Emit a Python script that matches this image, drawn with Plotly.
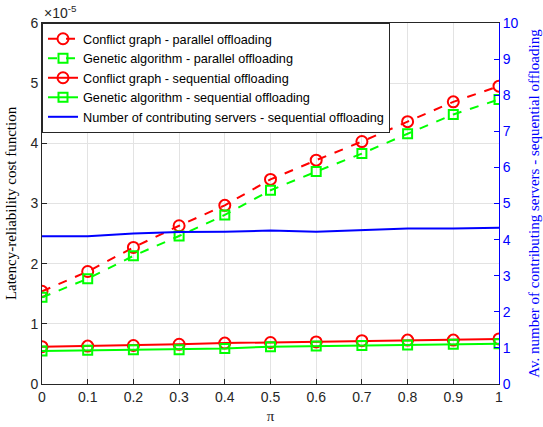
import plotly.graph_objects as go

# Weighting factor pi
pi_vals = [0, 0.1, 0.2, 0.3, 0.4, 0.5, 0.6, 0.7, 0.8, 0.9, 1.0]

# Latency-reliability cost (units of 1e-5)
cg_parallel = [1.54, 1.87, 2.27, 2.63, 2.97, 3.40, 3.72, 4.03, 4.36, 4.69, 4.95]
ga_parallel = [1.44, 1.75, 2.13, 2.46, 2.81, 3.22, 3.53, 3.83, 4.16, 4.48, 4.73]
cg_sequential = [0.62, 0.63, 0.64, 0.66, 0.68, 0.69, 0.70, 0.72, 0.73, 0.73, 0.75]
ga_sequential = [0.55, 0.56, 0.57, 0.57, 0.59, 0.62, 0.63, 0.64, 0.65, 0.66, 0.67]

# Average number of contributing servers (sequential offloading)
servers_sequential = [4.09, 4.09, 4.17, 4.21, 4.22, 4.25, 4.22, 4.26, 4.31, 4.31, 4.33]

x_ticks = [0, 0.1, 0.2, 0.3, 0.4, 0.5, 0.6, 0.7, 0.8, 0.9, 1]
x_tick_text = ["0", "0.1", "0.2", "0.3", "0.4", "0.5", "0.6", "0.7", "0.8", "0.9", "1"]
left_ticks = [0, 1, 2, 3, 4, 5, 6]
right_ticks = [0, 1, 2, 3, 4, 5, 6, 7, 8, 9, 10]

RED = "#ff0000"
GREEN = "#00ff00"
BLUE = "#0000ff"
AX = "#262626"
GRID = "#e3e3e3"
SANS = "Liberation Sans, Arial, sans-serif"
SERIF = "Liberation Serif, Times New Roman, serif"

fig = go.Figure()

fig.add_trace(go.Scatter(
    x=pi_vals, y=cg_parallel, name="Conflict graph - parallel offloading",
    mode="lines+markers",
    line=dict(color=RED, width=2, dash="dash"),
    marker=dict(symbol="circle-open", size=11, color=RED, line=dict(width=2)),
))
fig.add_trace(go.Scatter(
    x=pi_vals, y=ga_parallel, name="Genetic algorithm - parallel offloading",
    mode="lines+markers",
    line=dict(color=GREEN, width=2, dash="dash"),
    marker=dict(symbol="square-open", size=9, color=GREEN, line=dict(width=2)),
))
fig.add_trace(go.Scatter(
    x=pi_vals, y=cg_sequential, name="Conflict graph - sequential offloading",
    mode="lines+markers",
    line=dict(color=RED, width=2),
    marker=dict(symbol="circle-open", size=11, color=RED, line=dict(width=2)),
))
fig.add_trace(go.Scatter(
    x=pi_vals, y=ga_sequential, name="Genetic algorithm - sequential offloading",
    mode="lines+markers",
    line=dict(color=GREEN, width=2),
    marker=dict(symbol="square-open", size=9, color=GREEN, line=dict(width=2)),
))
fig.add_trace(go.Scatter(
    x=pi_vals, y=servers_sequential,
    name="Number of contributing servers - sequential offloading",
    mode="lines", yaxis="y2",
    line=dict(color=BLUE, width=2),
))

fig.update_layout(
    width=543, height=427,
    margin=dict(l=42, r=44, t=23, b=43),
    paper_bgcolor="white", plot_bgcolor="white",
    font=dict(family=SANS, size=14, color=AX),
    showlegend=True,
    legend=dict(
        x=0, y=1, xanchor="left", yanchor="top",
        bgcolor="white", bordercolor=AX, borderwidth=1,
        font=dict(family=SANS, size=12.7, color="black"),
        tracegroupgap=0, itemwidth=30,
    ),
    xaxis=dict(
        range=[0, 1], tickvals=x_ticks, ticktext=x_tick_text,
        showgrid=True, gridcolor=GRID, zeroline=False,
        showline=True, linecolor=AX, linewidth=1, mirror=True,
        ticks="inside", ticklen=5, tickcolor=AX, automargin=False,
        title=dict(text="π", font=dict(family=SERIF, size=15, color=AX), standoff=6),
    ),
    yaxis=dict(
        range=[0, 6], tickvals=left_ticks,
        showgrid=True, gridcolor=GRID, zeroline=False,
        showline=True, linecolor=AX, linewidth=1,
        ticks="inside", ticklen=5, tickcolor=AX, automargin=False,
        title=dict(text="Latency-reliability cost function",
                   font=dict(family=SERIF, size=15, color="black"), standoff=10),
    ),
    yaxis2=dict(
        range=[0, 10], tickvals=right_ticks, overlaying="y", side="right",
        showgrid=False, zeroline=False,
        showline=True, linecolor=BLUE, linewidth=1,
        ticks="inside", ticklen=5, tickcolor=BLUE, automargin=False,
        tickfont=dict(color=BLUE, size=14),
        title=dict(text="Av. number of contributing servers - sequential offloading",
                   font=dict(family=SERIF, size=15, color=BLUE), standoff=10),
    ),
    annotations=[dict(
        text="×10<sup>-5</sup>", xref="paper", yref="paper", x=0, y=1,
        xanchor="left", yanchor="bottom", showarrow=False,
        font=dict(family=SANS, size=14, color=AX), yshift=0,
    )],
)

fig.write_html("out.html")
